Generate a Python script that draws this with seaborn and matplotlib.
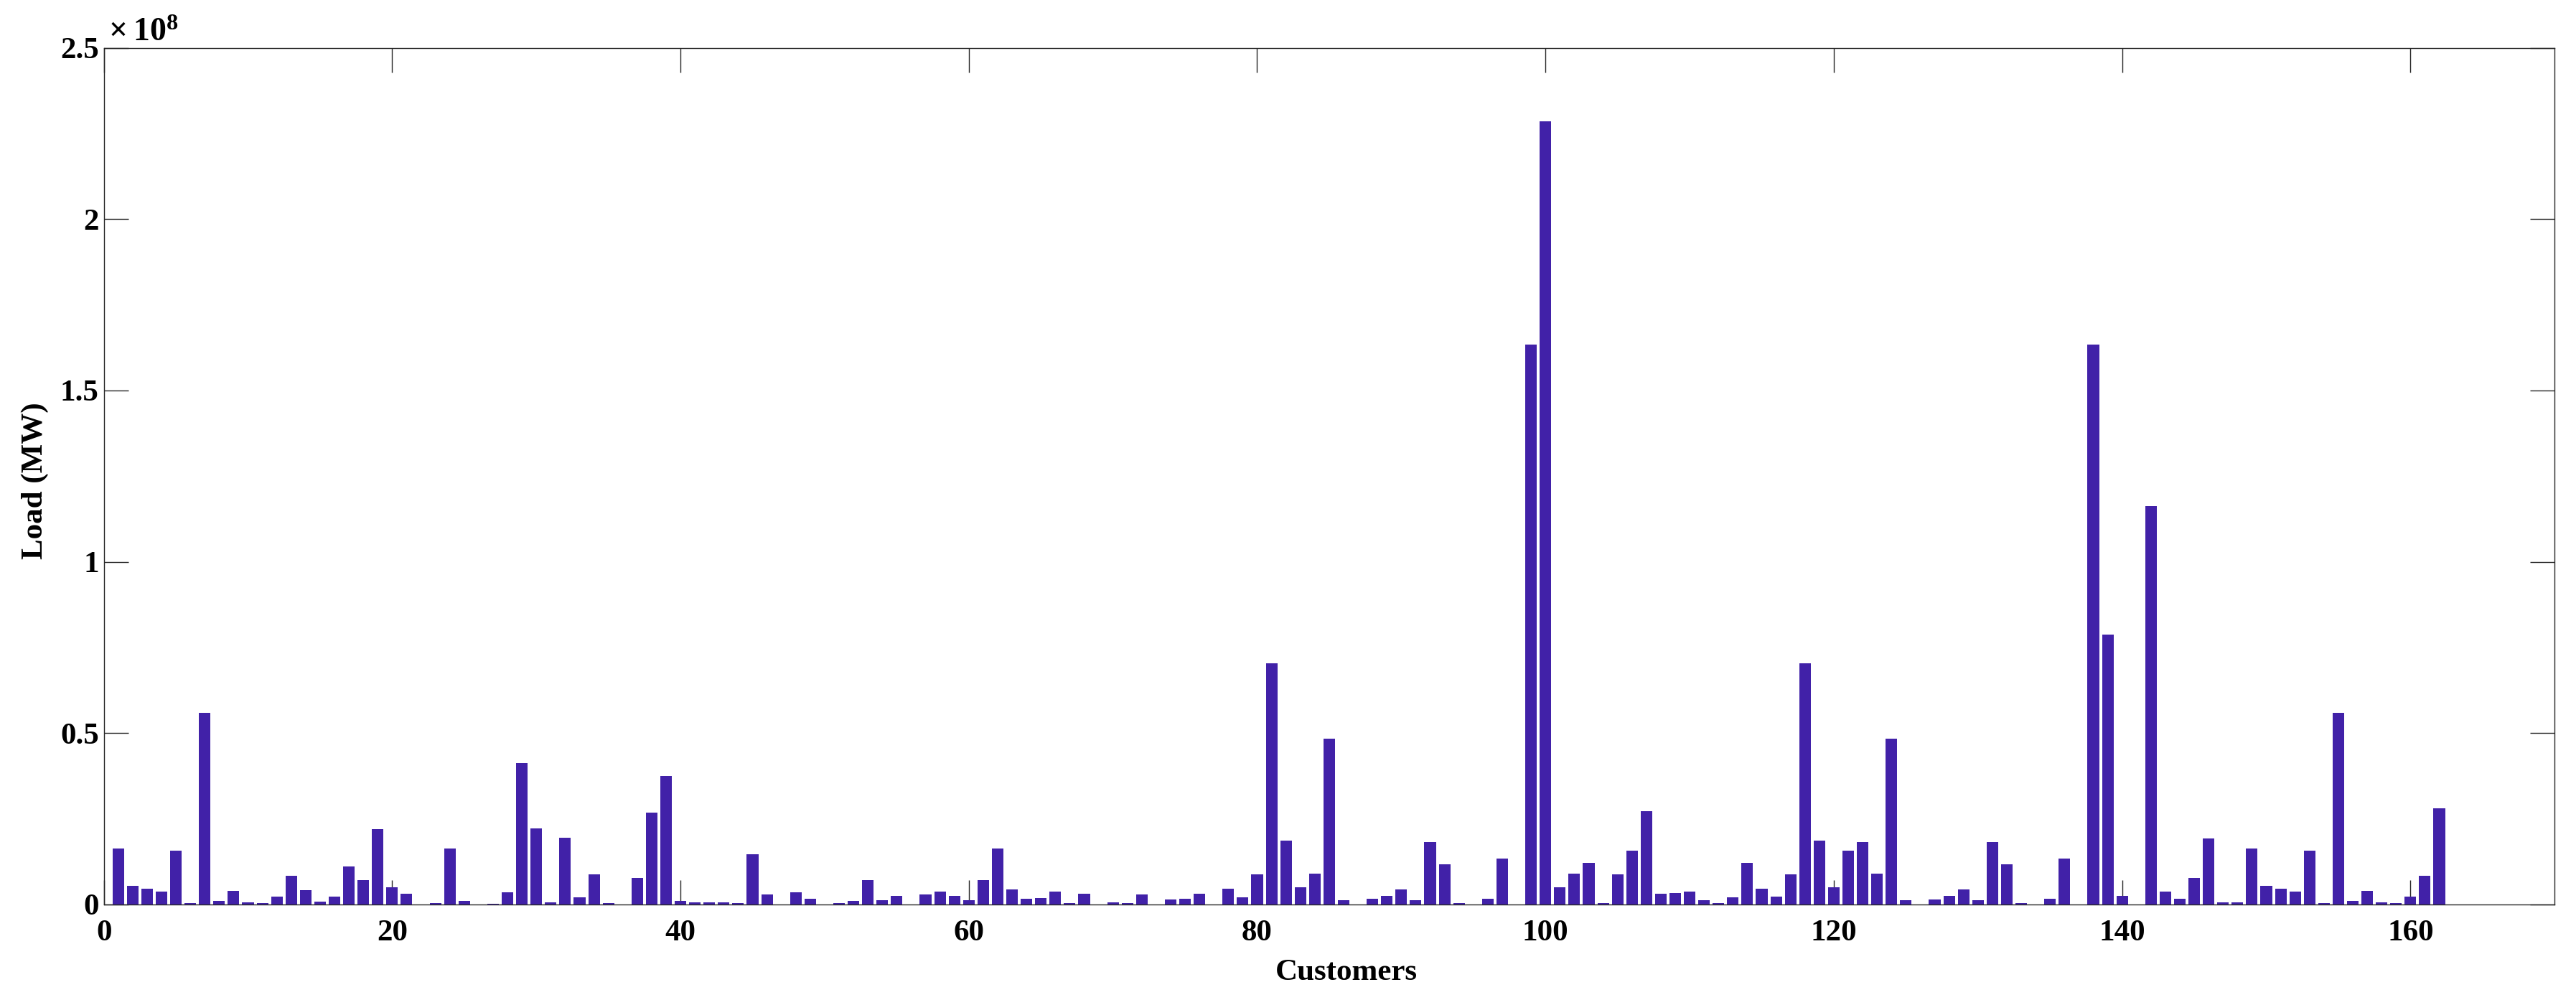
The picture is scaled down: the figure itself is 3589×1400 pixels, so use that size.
import numpy as np
import pandas as pd
import matplotlib
matplotlib.use("Agg")
import matplotlib.pyplot as plt
from matplotlib.ticker import FuncFormatter, FixedLocator
import seaborn as sns

# ---------------- data (load values in units of 1e7 MW) ----------------
customers = list(range(1, 163))
load_e7 = [
    1.64, 0.54, 0.47, 0.38, 1.57, 0.04, 5.60, 0.10, 0.40, 0.07,   # 1-10
    0.04, 0.24, 0.83, 0.41, 0.08, 0.23, 1.11, 0.72, 2.19, 0.51,   # 11-20
    0.32, 0.00, 0.04, 1.64, 0.10, 0.00, 0.02, 0.35, 4.12, 2.22,   # 21-30
    0.06, 1.94, 0.20, 0.88, 0.04, 0.00, 0.77, 2.69, 3.75, 0.10,   # 31-40
    0.07, 0.06, 0.07, 0.04, 1.46, 0.29, 0.00, 0.35, 0.17, 0.00,   # 41-50
    0.04, 0.10, 0.72, 0.12, 0.26, 0.00, 0.29, 0.38, 0.26, 0.13,   # 51-60
    0.72, 1.64, 0.44, 0.17, 0.19, 0.38, 0.04, 0.32, 0.00, 0.07,   # 61-70
    0.04, 0.29, 0.00, 0.15, 0.17, 0.32, 0.00, 0.47, 0.21, 0.87,   # 71-80
    7.03, 1.86, 0.51, 0.91, 4.83, 0.13, 0.00, 0.17, 0.26, 0.43,   # 81-90
    0.13, 1.82, 1.18, 0.04, 0.00, 0.17, 1.34, 0.00, 16.34, 22.85, # 91-100
    0.51, 0.91, 1.22, 0.04, 0.87, 1.57, 2.72, 0.32, 0.33, 0.38,   # 101-110
    0.12, 0.04, 0.21, 1.21, 0.47, 0.22, 0.87, 7.03, 1.86, 0.51,   # 111-120
    1.57, 1.82, 0.91, 4.83, 0.13, 0.00, 0.15, 0.26, 0.43, 0.13,   # 121-130
    1.82, 1.18, 0.04, 0.00, 0.17, 1.34, 0.00, 16.34, 7.88, 0.26,  # 131-140
    0.00, 11.62, 0.38, 0.17, 0.78, 1.92, 0.07, 0.07, 1.64, 0.54,  # 141-150
    0.47, 0.38, 1.57, 0.04, 5.60, 0.10, 0.40, 0.07, 0.04, 0.24,   # 151-160
    0.83, 2.81,                                                   # 161-162
]
x_ticks = [0, 20, 40, 60, 80, 100, 120, 140, 160]
y_ticks = [0, 0.5e8, 1.0e8, 1.5e8, 2.0e8, 2.5e8]

df = pd.DataFrame({"Customers": customers,
                   "Load": np.array(load_e7) * 1e7})

# ---------------- style ----------------
sns.set_theme(style="white")
plt.rcParams["font.family"] = ["Liberation Serif", "DejaVu Serif"]
plt.rcParams["font.weight"] = "bold"
plt.rcParams["mathtext.fontset"] = "custom"
plt.rcParams["mathtext.rm"] = "Liberation Serif"
plt.rcParams["mathtext.bf"] = "Liberation Serif:bold"

BAR = "#4121a8"
AX = "#262626"
FS = 31

fig = plt.figure(figsize=(35.89, 14), dpi=100)
ax = fig.add_axes([0.0403, 0.1, 0.9514, 0.8524])

sns.barplot(data=df, x="Customers", y="Load", native_scale=True,
            width=0.8, color=BAR, saturation=1, errorbar=None,
            linewidth=0, ax=ax)

ax.set_xlim(0, 170)
ax.set_ylim(0, 2.5e8)
ax.xaxis.set_major_locator(FixedLocator(x_ticks))
ax.yaxis.set_major_locator(FixedLocator(y_ticks))
ax.yaxis.set_major_formatter(FuncFormatter(lambda v, _: f"{v/1e8:g}"))
ax.xaxis.set_major_formatter(FuncFormatter(lambda v, _: f"{v:g}"))

for s in ax.spines.values():
    s.set_visible(True)
    s.set_color(AX)
    s.set_linewidth(1.0)

ax.tick_params(axis="both", which="major", direction="in", length=24.5,
               width=1.0, color=AX, labelcolor="black", labelsize=FS,
               top=True, right=True, bottom=True, left=True)
ax.tick_params(axis="x", pad=15)
ax.tick_params(axis="y", pad=5)
for lab in ax.get_xticklabels() + ax.get_yticklabels():
    lab.set_fontweight("bold")

ax.set_xlabel("Customers", fontsize=FS, fontweight="bold", color="black")
ax.set_ylabel("Load (MW)", fontsize=FS, fontweight="bold", color="black")
ax.xaxis.set_label_coords(0.507, -0.064)
ax.yaxis.set_label_coords(-0.0225, 0.495)

ax.text(0.002, 1.0, r"$\times\,\mathbf{10^{8}}$", transform=ax.transAxes,
        ha="left", va="bottom", fontsize=33, color="black")

fig.savefig("out.png", dpi=100, facecolor="white")
